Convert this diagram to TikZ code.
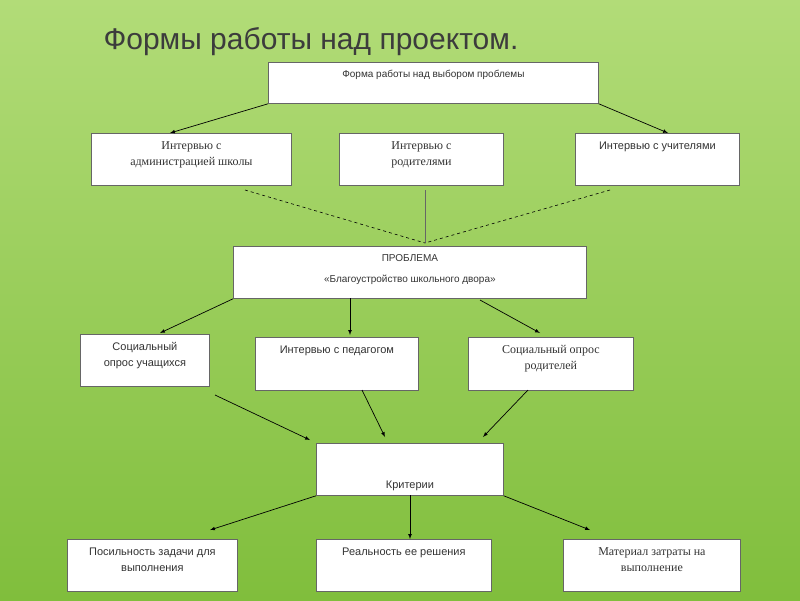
\documentclass[tikz,border=0pt]{standalone}
\usepackage{fontspec}
\setmainfont{Liberation Sans}
\newfontfamily\serifbox{Liberation Serif}
\usetikzlibrary{calc}
\definecolor{bgtop}{RGB}{178,220,120}
\definecolor{bgbot}{RGB}{128,190,60}
\definecolor{titlegrey}{RGB}{60,60,60}
\tikzset{
    box/.style={draw=black!60, fill=white, line width=0.8pt, anchor=north west, inner sep=0pt},
    txt/.style={anchor=north, align=center, font=\fontsize{11}{14}\selectfont, text=black!80},
    arr/.style={-latex, line width=0.7pt}
}
\begin{document}
\begin{tikzpicture}[x=1pt,y=-1pt]
\useasboundingbox (0,0) rectangle (800,600);
\shade[top color=bgtop, bottom color=bgbot] (0,0) rectangle (800,600);
\node[anchor=west, font=\fontsize{30}{34}\selectfont, text=titlegrey] (title) at (100,42) {Формы работы над проектом.};
% boxes
\foreach \n/\x/\y/\w/\h in {top/268/62/330/41, adm/91/133/200/52, par/339/133/164/52, tea/575/133/164/52,
    prob/233/246/353/52, stu/80/334/129/52, ped/255/337/163/53, ppar/468/337/165/53,
    crit/316/443/187/52, pos/67/539/170/52, real/316/539/175/52, mat/563/539/177/52}{
    \node[box, minimum width=\w pt, minimum height=\h pt] (\n) at (\x,\y) {};
}
% texts
\node[txt, font=\fontsize{10}{13}\selectfont] (ttop) at ($(top.north)+(0,5)$) {Форма работы над выбором проблемы};
\node[txt, font=\serifbox\fontsize{12}{16}\selectfont] (tadm) at ($(adm.north)+(0,5)$) {Интервью с\\администрацией школы};
\node[txt, font=\serifbox\fontsize{12}{16}\selectfont] (tpar) at ($(par.north)+(0,5)$) {Интервью с\\родителями};
\node[txt] (ttea) at ($(tea.north)+(0,5)$) {Интервью с учителями};
\node[txt, font=\fontsize{10}{13}\selectfont] (tprob) at ($(prob.north)+(0,5)$) {ПРОБЛЕМА\\[8pt]«Благоустройство школьного двора»};
\node[txt, font=\fontsize{11}{16}\selectfont] (tstu) at ($(stu.north)+(0,5)$) {Социальный\\опрос учащихся};
\node[txt] (tped) at ($(ped.north)+(0,5)$) {Интервью с педагогом};
\node[txt, font=\serifbox\fontsize{12}{16}\selectfont] (tppar) at ($(ppar.north)+(0,5)$) {Социальный опрос\\родителей};
\node[txt] (tcrit) at ($(crit.north)+(0,34)$) {Критерии};
\node[txt, font=\fontsize{11}{16}\selectfont] (tpos) at ($(pos.north)+(0,5)$) {Посильность задачи для\\выполнения};
\node[txt] (treal) at ($(real.north)+(0,5)$) {Реальность ее решения};
\node[txt, font=\serifbox\fontsize{12}{16}\selectfont] (tmat) at ($(mat.north)+(0,5)$) {Материал затраты на\\выполнение};
% free ends
\coordinate (j1) at (425,243);
\coordinate (s1) at (245,190);
\coordinate (s2) at (425,190);
\coordinate (s3) at (610,190);
\coordinate (k1) at (215,395);
\coordinate (k2) at (362,390);
\coordinate (k3) at (528,390);
% connectors
\draw[arr] (top.south west) -- (170,133);
\draw[arr] (top.south east) -- (668,133);
\draw[dashed, line width=0.6pt] (s1) -- (j1);
\draw[line width=0.5pt, black!60] (s2) -- (j1);
\draw[dashed, line width=0.6pt] (s3) -- (j1);
\draw[arr] (prob.south west) -- (160,333);
\draw[arr] (350,298) -- (350,335);
\draw[arr] (480,300) -- (540,333);
\draw[arr] (k1) -- (310,440);
\draw[arr] (k2) -- (385,437);
\draw[arr] (k3) -- (483,437);
\draw[arr] (crit.south west) -- (210,530);
\draw[arr] (410,495) -- (410,539);
\draw[arr] (crit.south east) -- (590,530);
\end{tikzpicture}
\end{document}
